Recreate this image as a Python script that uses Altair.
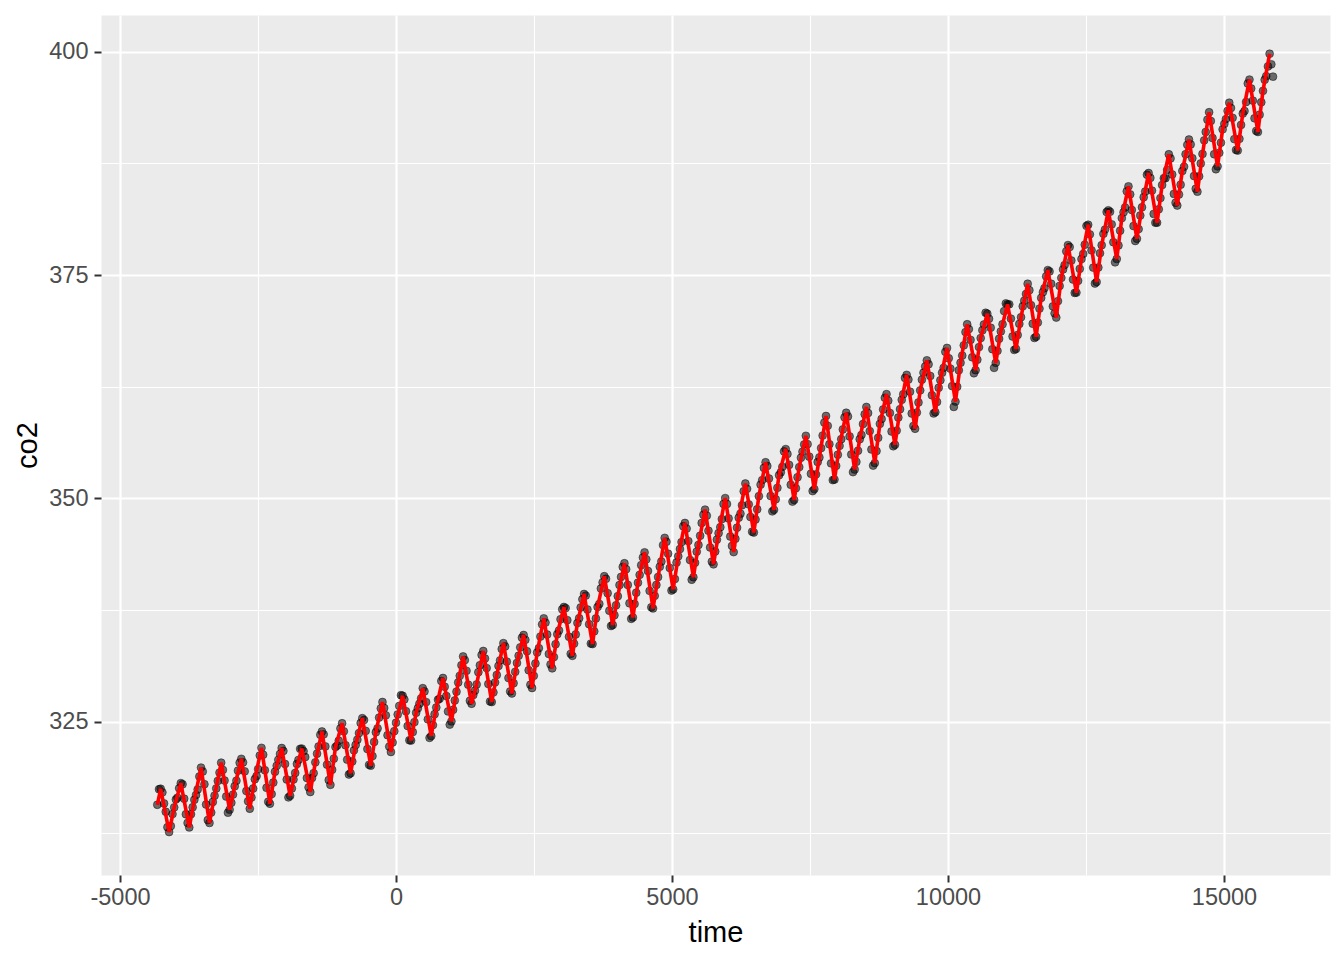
import altair as alt
import pandas as pd

# Mauna Loa monthly CO2 (ppm), first value = March 1958, monthly until July 2013
start_month = "1958-03-01"
co2_values = [
    315.71, 317.45, 317.50, 317.10, 315.86, 314.93, 313.20, 312.66, 313.33, 314.67,
    315.42, 316.31, 316.50, 317.56, 318.13, 318.00, 316.39, 314.65, 313.68, 313.18, 314.66, 315.43,
    316.27, 316.81, 317.42, 318.87, 319.87, 319.43, 318.01, 315.74, 314.00, 313.68, 314.84, 316.03,
    316.73, 317.54, 318.38, 319.31, 320.42, 319.61, 318.42, 316.63, 314.83, 315.16, 315.94, 316.85,
    317.78, 318.40, 319.53, 320.42, 320.85, 320.45, 319.45, 317.25, 316.11, 315.27, 316.53, 317.53,
    318.58, 318.92, 319.70, 321.22, 322.08, 321.31, 319.58, 317.61, 316.05, 315.83, 316.91, 318.20,
    319.41, 320.07, 320.74, 321.40, 322.06, 321.73, 320.27, 318.54, 316.54, 316.71, 317.53, 318.55,
    319.27, 320.28, 320.73, 321.97, 322.00, 321.71, 321.05, 318.71, 317.66, 317.14, 318.70, 319.25,
    320.46, 321.43, 322.23, 323.54, 323.91, 323.59, 322.24, 320.20, 318.48, 317.94, 319.63, 320.87,
    322.17, 322.34, 322.88, 324.25, 324.83, 323.93, 322.38, 320.76, 319.10, 319.24, 320.56, 321.80,
    322.40, 322.99, 323.73, 324.86, 325.40, 325.20, 323.98, 321.95, 320.18, 320.09, 321.16, 322.74,
    323.83, 324.26, 325.47, 326.50, 327.21, 326.54, 325.72, 323.50, 322.22, 321.62, 322.69, 323.95,
    324.89, 325.82, 326.77, 327.97, 327.91, 327.50, 326.18, 324.53, 322.93, 322.90, 323.85, 324.96,
    326.01, 326.51, 327.01, 327.62, 328.76, 328.40, 327.20, 325.27, 323.20, 323.40, 324.63, 325.85,
    326.60, 327.47, 327.58, 329.56, 329.90, 328.92, 327.88, 326.16, 324.68, 325.04, 326.34, 327.39,
    328.37, 329.40, 330.14, 331.33, 332.31, 331.90, 330.70, 329.15, 327.35, 327.02, 327.99, 328.48,
    329.18, 330.55, 331.32, 332.48, 332.92, 332.08, 331.01, 329.23, 327.27, 327.21, 328.29, 329.41,
    330.23, 331.25, 331.87, 333.14, 333.80, 333.43, 331.73, 329.90, 328.40, 328.17, 329.32, 330.59,
    331.58, 332.39, 333.33, 334.41, 334.71, 334.17, 332.89, 330.77, 329.14, 328.78, 330.14, 331.52,
    332.75, 333.24, 334.53, 335.90, 336.57, 336.10, 334.76, 332.59, 331.42, 330.98, 332.24, 333.68,
    334.80, 335.22, 336.47, 337.59, 337.84, 337.72, 336.37, 334.51, 332.60, 332.38, 333.75, 334.78,
    336.05, 336.59, 337.79, 338.71, 339.30, 339.12, 337.56, 335.92, 333.75, 333.70, 335.12, 336.56,
    337.84, 338.19, 339.91, 340.60, 341.29, 341.00, 339.39, 337.43, 335.72, 335.84, 336.93, 338.04,
    339.06, 340.30, 341.21, 342.33, 342.74, 342.08, 340.32, 338.26, 336.52, 336.68, 338.19, 339.44,
    340.57, 341.44, 342.53, 343.39, 343.96, 343.18, 341.88, 339.65, 337.81, 337.69, 339.09, 340.32,
    341.20, 342.35, 342.93, 344.77, 345.58, 345.14, 343.81, 342.21, 339.69, 339.82, 340.98, 342.82,
    343.52, 344.33, 345.11, 346.88, 347.25, 346.62, 345.22, 343.11, 340.90, 341.18, 342.80, 344.04,
    344.79, 345.82, 347.25, 348.17, 348.74, 348.07, 346.38, 344.51, 342.92, 342.62, 344.06, 345.38,
    346.11, 346.78, 347.68, 349.37, 350.03, 349.37, 347.76, 345.73, 344.68, 343.99, 345.48, 346.72,
    347.84, 348.29, 349.23, 350.80, 351.66, 351.07, 349.33, 347.92, 346.27, 346.18, 347.64, 348.78,
    350.25, 351.54, 352.05, 353.41, 354.04, 353.62, 352.22, 350.27, 348.55, 348.72, 349.91, 351.18,
    352.60, 352.92, 353.53, 355.26, 355.52, 354.97, 353.75, 351.52, 349.64, 349.83, 351.14, 352.37,
    353.50, 354.55, 355.23, 356.04, 357.00, 356.07, 354.67, 352.76, 350.82, 351.04, 352.69, 354.07,
    354.59, 355.63, 357.03, 358.48, 359.22, 358.12, 356.06, 353.92, 352.05, 352.11, 353.64, 354.89,
    355.88, 356.63, 357.72, 359.07, 359.58, 359.17, 356.94, 354.92, 352.94, 353.23, 354.09, 355.33,
    356.63, 357.10, 358.32, 359.41, 360.23, 359.55, 357.53, 355.48, 353.67, 353.95, 355.30, 356.78,
    358.34, 358.89, 359.95, 361.25, 361.67, 360.94, 359.55, 357.49, 355.84, 356.00, 357.59, 359.05,
    359.98, 361.03, 361.66, 363.48, 363.82, 363.30, 361.94, 359.50, 358.11, 357.80, 359.61, 360.74,
    362.09, 363.29, 364.06, 364.76, 365.45, 365.01, 363.70, 361.54, 359.51, 359.65, 360.80, 362.38,
    363.23, 364.06, 364.61, 366.40, 366.84, 365.68, 364.52, 362.57, 360.24, 360.83, 362.49, 364.34,
    365.18, 365.98, 367.13, 368.61, 369.49, 368.95, 367.74, 365.79, 364.01, 364.35, 365.52, 366.93,
    367.94, 368.82, 369.46, 370.77, 370.66, 370.10, 369.10, 366.70, 364.61, 365.17, 366.51, 367.86,
    368.69, 369.49, 370.96, 371.82, 371.72, 371.72, 370.12, 368.12, 366.62, 366.73, 368.29, 369.53,
    370.28, 371.50, 372.12, 372.87, 374.02, 373.30, 371.62, 369.55, 367.96, 368.09, 369.68, 371.24,
    372.44, 373.08, 373.52, 374.85, 375.55, 375.40, 374.02, 371.49, 370.71, 370.24, 372.08, 373.78,
    374.68, 375.63, 376.11, 377.65, 378.35, 378.13, 376.62, 374.50, 373.00, 373.03, 374.35, 375.69,
    376.79, 377.36, 378.39, 380.50, 380.62, 379.55, 377.76, 375.83, 374.05, 374.22, 375.84, 377.44,
    378.34, 379.61, 380.08, 382.05, 382.24, 382.08, 380.67, 378.67, 376.42, 376.80, 378.31, 379.96,
    381.37, 382.02, 382.56, 384.37, 384.92, 384.03, 382.28, 380.48, 378.81, 379.06, 380.14, 381.66,
    382.58, 383.71, 384.34, 386.23, 386.41, 385.87, 384.45, 381.84, 380.86, 380.86, 382.36, 383.61,
    385.07, 385.84, 385.83, 386.77, 388.51, 388.05, 386.25, 384.08, 383.09, 382.78, 384.01, 385.11,
    386.65, 387.12, 388.52, 389.57, 390.16, 389.62, 388.07, 386.08, 384.65, 384.33, 386.05, 387.49,
    388.55, 390.07, 391.01, 392.38, 393.22, 392.24, 390.33, 388.52, 386.84, 387.16, 388.67, 389.81,
    391.30, 391.92, 392.45, 393.37, 394.28, 393.69, 392.59, 390.21, 389.00, 388.93, 390.24, 391.80,
    393.07, 393.35, 394.36, 396.43, 396.87, 395.88, 394.52, 392.54, 391.13, 391.01, 392.95, 394.34,
    395.61, 396.85, 397.26, 398.35, 399.76, 398.58, 397.20,
]

# months at which the fitted (red) line has its vertices
fit_months = [1, 5, 10]

x_ticks = [-5000, -2500, 0, 2500, 5000, 7500, 10000, 12500, 15000]
y_ticks = [312.5, 325, 337.5, 350, 362.5, 375, 387.5, 400]

dates = pd.date_range(start_month, periods=len(co2_values), freq="MS")
df = pd.DataFrame({
    "time": (dates - pd.Timestamp("1970-01-01")).days,
    "month": dates.month,
    "idx": range(len(co2_values)),
    "co2": co2_values,
})

FONT = "Liberation Sans"

x_enc = alt.X(
    "time:Q",
    scale=alt.Scale(domain=[-5344, 16920], nice=False, zero=False),
    axis=alt.Axis(
        values=x_ticks,
        title="time",
        labelExpr="datum.value % 5000 === 0 ? '' + datum.value : ''",
        gridWidth={"condition": {"test": "datum.value % 5000 === 0", "value": 2.2}, "value": 1.1},
        tickOpacity={"condition": {"test": "datum.value % 5000 === 0", "value": 1}, "value": 0},
        titleX=614.5,
        titleY=66,
        titleBaseline="alphabetic",
        labelPadding=3,
    ),
)
y_enc = alt.Y(
    "co2:Q",
    scale=alt.Scale(domain=[307.85, 404.1], nice=False, zero=False),
    axis=alt.Axis(
        values=y_ticks,
        title="co2",
        labelExpr="datum.value % 25 === 0 ? '' + datum.value : ''",
        gridWidth={"condition": {"test": "datum.value % 25 === 0", "value": 2.2}, "value": 1.1},
        tickOpacity={"condition": {"test": "datum.value % 25 === 0", "value": 1}, "value": 0},
        titleX=-73.5,
        titleY=430,
        titleAngle=270,
        titleAlign="center",
        titleBaseline="middle",
        labelPadding=6,
    ),
)

base = alt.Chart(df)

points = base.mark_point(
    shape="circle", filled=True, size=62, fill="black", fillOpacity=0.55,
    stroke="black", strokeOpacity=0.45, strokeWidth=1,
).encode(x=x_enc, y=y_enc)

fit_filter = " || ".join([f"datum.month == {m}" for m in fit_months]) + " || datum.idx == 0"
fit_line = base.transform_filter(fit_filter).mark_line(
    color="#FF0000", strokeWidth=3.6
).encode(x="time:Q", y="co2:Q", order="time:Q")

chart = alt.layer(points, fit_line).properties(
    width=1229,
    height=860,
    autosize=alt.AutoSizeParams(type="none"),
    padding={"left": 93, "top": 7, "right": 6, "bottom": 77},
    background="white",
).configure_view(
    fill="#EBEBEB", strokeOpacity=0
).configure_axis(
    domain=False,
    gridColor="white",
    tickColor="#333333",
    tickSize=7,
    tickWidth=2,
    labelFont=FONT,
    labelFontSize=23.5,
    labelColor="#4D4D4D",
    titleFont=FONT,
    titleFontSize=29,
    titleColor="black",
    titleFontWeight="normal",
)

chart.save("out.html", embed_options={"renderer": "svg", "actions": False})
